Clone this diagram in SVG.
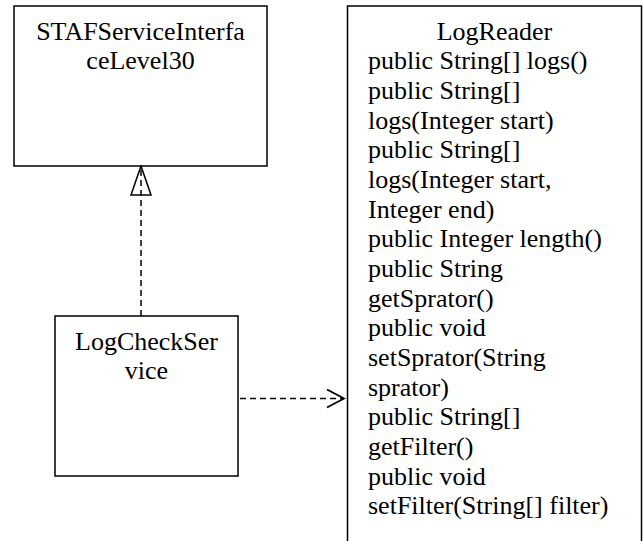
<svg xmlns="http://www.w3.org/2000/svg" width="643" height="541" viewBox="0 0 643 541">
<defs>
<style>
.box{fill:#fff;stroke:#000;stroke-width:1.5}
.t{font-family:"Liberation Serif","Times New Roman",serif;font-size:26px;fill:#000}
.c{text-anchor:middle}
.dash{fill:none;stroke:#000;stroke-width:1.5;stroke-dasharray:6 4}
</style>
<marker id="tri" markerWidth="22" markerHeight="32" refX="11" refY="1" orient="0" markerUnits="userSpaceOnUse">
<path d="M11,1 L1,30 L21,30 Z" fill="none" stroke="#000" stroke-width="1.5"/>
</marker>
<marker id="open" markerWidth="20" markerHeight="22" refX="18" refY="10" orient="auto" markerUnits="userSpaceOnUse">
<path d="M1,1 L18,10 L1,19" fill="none" stroke="#000" stroke-width="1.8"/>
</marker>
</defs>
<rect width="643" height="541" fill="#fff"/>
<g id="STAFServiceInterfaceLevel30">
<rect class="box" x="14" y="6" width="253" height="160"/>
<text class="t c" x="140.5" y="39.5">STAFServiceInterfa</text>
<text class="t c" x="140.5" y="69.2">ceLevel30</text>
</g>
<g id="LogReader">
<rect class="box" x="347.5" y="6" width="294" height="545"/>
<text class="t c" x="494.5" y="39.5">LogReader</text>
<text class="t" x="368" y="69.2">public String[] logs()</text>
<text class="t" x="368" y="98.8">public String[]</text>
<text class="t" x="368" y="128.5">logs(Integer start)</text>
<text class="t" x="368" y="158.2">public String[]</text>
<text class="t" x="368" y="187.8">logs(Integer start,</text>
<text class="t" x="368" y="217.5">Integer end)</text>
<text class="t" x="368" y="247.2">public Integer length()</text>
<text class="t" x="368" y="276.9">public String</text>
<text class="t" x="368" y="306.5">getSprator()</text>
<text class="t" x="368" y="336.2">public void</text>
<text class="t" x="368" y="365.9">setSprator(String</text>
<text class="t" x="368" y="395.5">sprator)</text>
<text class="t" x="368" y="425.2">public String[]</text>
<text class="t" x="368" y="454.9">getFilter()</text>
<text class="t" x="368" y="484.5">public void</text>
<text class="t" x="368" y="514.2">setFilter(String[] filter)</text>
</g>
<g id="LogCheckService">
<rect class="box" x="55" y="316" width="183" height="160"/>
<text class="t c" x="146.5" y="349.5">LogCheckSer</text>
<text class="t c" x="146.5" y="379.2">vice</text>
</g>
<g id="connectors">
<line class="dash" x1="141" y1="316" x2="141" y2="166" marker-end="url(#tri)"/>
<line class="dash" x1="240" y1="398.5" x2="344" y2="398.5" marker-end="url(#open)"/>
</g>
</svg>
